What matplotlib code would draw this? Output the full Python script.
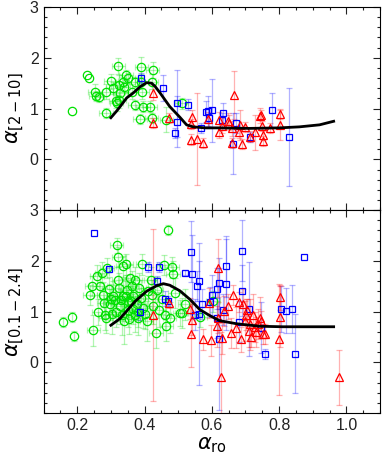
import numpy as np
import matplotlib
matplotlib.use('Agg')
from matplotlib import pyplot as plt
from matplotlib.ticker import MultipleLocator

plt.rcParams['font.family'] = ['Liberation Sans', 'DejaVu Sans']
plt.rcParams['mathtext.fontset'] = 'dejavusans'

# ---- top panel: alpha_[2-10] vs alpha_ro ----
top_green_x = [0.184, 0.228, 0.236, 0.253, 0.256, 0.266, 0.286, 0.286, 0.300, 0.307,
               0.317, 0.322, 0.325, 0.327, 0.325, 0.335, 0.345, 0.352, 0.362, 0.372,
               0.372, 0.386, 0.391, 0.391, 0.394, 0.396, 0.416, 0.421, 0.424, 0.421,
               0.465, 0.510, 0.338, 0.314]
top_green_y = [0.96, 1.67, 1.61, 1.33, 1.24, 1.22, 1.33, 0.92, 1.54, 1.40,
               1.10, 1.84, 1.47, 1.30, 1.17, 1.53, 1.66, 1.61, 1.33, 1.53,
               1.07, 0.79, 1.82, 1.53, 1.33, 1.04, 1.04, 1.53, 1.76, 0.81,
               0.78, 1.10, 1.42, 1.14]
top_green_yerr = [0.0, 0.0, 0.0, 0.15, 0.10, 0.10, 0.15, 0.10, 0.15, 0.12,
                  0.15, 0.15, 0.20, 0.15, 0.15, 0.10, 0.10, 0.10, 0.15, 0.10,
                  0.10, 0.10, 0.20, 0.15, 0.15, 0.10, 0.10, 0.15, 0.15, 0.10,
                  0.25, 0.10, 0.10, 0.12]
top_green_xerr = [0.0, 0.0, 0.0, 0.02, 0.02, 0.015, 0.02, 0.02, 0.02, 0.02,
                  0.02, 0.02, 0.02, 0.02, 0.02, 0.02, 0.02, 0.02, 0.02, 0.02,
                  0.02, 0.02, 0.02, 0.02, 0.02, 0.02, 0.02, 0.02, 0.02, 0.02,
                  0.02, 0.02, 0.02, 0.02]

top_blue_x = [0.391, 0.454, 0.498, 0.498, 0.492, 0.530, 0.569, 0.582, 0.589, 0.602,
              0.592, 0.632, 0.630, 0.663, 0.673, 0.712, 0.778, 0.829]
top_blue_y = [1.61, 1.40, 1.10, 0.74, 0.52, 1.08, 0.62, 0.94, 0.95, 0.97,
              0.82, 0.91, 0.77, 0.31, 0.72, 0.44, 0.97, 0.44]
top_blue_yerr = [0.10, 0.26, 0.65, 0.50, 0.10, 0.10, 0.10, 0.20, 0.30, 0.62,
                 0.20, 0.20, 0.15, 0.60, 0.20, 0.10, 0.33, 0.97]

top_red_x = [0.424, 0.426, 0.473, 0.537, 0.540, 0.537, 0.556, 0.574, 0.590, 0.621,
             0.621, 0.630, 0.649, 0.650, 0.660, 0.665, 0.660, 0.680, 0.683, 0.690,
             0.700, 0.714, 0.728, 0.742, 0.747, 0.750, 0.752, 0.752, 0.772, 0.803,
             0.804]
top_red_y = [1.31, 0.72, 0.81, 0.39, 0.83, 0.69, 0.40, 0.32, 0.79, 0.78,
             0.53, 0.66, 0.76, 0.72, 0.61, 1.27, 0.33, 0.53, 0.68, 0.31,
             0.63, 0.45, 0.53, 0.86, 0.88, 0.66, 0.48, 0.37, 0.61, 0.89,
             0.68]
top_red_yerr = [0.15, 0.10, 0.10, 0.10, 0.15, 0.10, 0.90, 0.10, 0.15, 0.15,
                0.10, 0.15, 0.15, 0.15, 0.15, 0.47, 0.10, 0.10, 0.30, 0.10,
                0.10, 0.10, 0.35, 0.15, 0.10, 0.10, 0.10, 0.10, 0.10, 0.10,
                0.30]

top_curve_x = [0.300, 0.317, 0.330, 0.347, 0.367, 0.387, 0.406, 0.421, 0.431, 0.446,
               0.475, 0.505, 0.525, 0.544, 0.580, 0.614, 0.712, 0.800, 0.860, 0.920,
               0.962]
top_curve_y = [0.82, 0.95, 1.06, 1.21, 1.31, 1.43, 1.51, 1.50, 1.44, 1.31,
               1.04, 0.83, 0.68, 0.64, 0.62, 0.62, 0.61, 0.62, 0.64, 0.68,
               0.75]

# ---- bottom panel: alpha_[0.1-2.4] vs alpha_ro ----
bot_green_x = [0.157, 0.184, 0.189, 0.238, 0.244, 0.248, 0.259, 0.263, 0.268, 0.273,
               0.278, 0.280, 0.283, 0.286, 0.288, 0.293, 0.298, 0.302, 0.307, 0.312,
               0.317, 0.322, 0.322, 0.324, 0.327, 0.332, 0.335, 0.337, 0.339, 0.345,
               0.347, 0.352, 0.357, 0.359, 0.362, 0.367, 0.372, 0.372, 0.377, 0.381,
               0.384, 0.391, 0.394, 0.396, 0.406, 0.411, 0.418, 0.421, 0.424, 0.434,
               0.436, 0.443, 0.451, 0.458, 0.460, 0.465, 0.470, 0.475, 0.482, 0.485,
               0.490, 0.505, 0.510, 0.520, 0.566, 0.604, 0.300, 0.315, 0.350, 0.365,
               0.380, 0.400, 0.345, 0.355, 0.330]
bot_green_y = [0.80, 0.90, 0.52, 1.33, 1.50, 0.63, 1.71, 0.99, 1.50, 1.77,
               1.33, 1.17, 0.94, 0.88, 1.86, 1.44, 1.14, 0.95, 1.30, 1.22,
               2.31, 1.63, 2.08, 1.46, 1.10, 0.94, 1.89, 1.30, 0.81, 1.93,
               1.43, 1.04, 1.67, 1.20, 1.50, 1.30, 1.63, 0.94, 1.14, 0.88,
               1.46, 1.27, 1.93, 1.07, 0.81, 1.40, 1.63, 1.33, 1.10, 0.58,
               1.43, 1.04, 1.25, 1.92, 0.94, 0.71, 2.61, 0.88, 1.87, 1.74,
               1.37, 0.97, 0.97, 1.14, 0.89, 1.20, 1.25, 1.00, 1.20, 1.05,
               1.00, 0.95, 1.30, 0.85, 1.22]
bot_green_yerr = [0.10, 0.10, 0.10, 0.20, 0.20, 0.30, 0.20, 0.25, 0.25, 0.20,
                  0.25, 0.30, 0.30, 0.30, 0.20, 0.25, 0.30, 0.40, 0.30, 0.30,
                  0.15, 0.25, 0.20, 0.30, 0.35, 0.40, 0.20, 0.35, 0.45, 0.20,
                  0.30, 0.35, 0.25, 0.35, 0.30, 0.35, 0.25, 0.35, 0.30, 0.35,
                  0.30, 0.35, 0.20, 0.40, 0.40, 0.30, 0.25, 0.30, 0.35, 0.30,
                  0.25, 0.35, 0.30, 0.20, 0.30, 0.30, 0.10, 0.30, 0.20, 0.25,
                  0.30, 0.25, 0.30, 0.30, 0.20, 0.20, 0.30, 0.30, 0.30, 0.30,
                  0.30, 0.30, 0.30, 0.30, 0.30]
bot_green_xerr = [0.0, 0.0, 0.0, 0.02, 0.02, 0.02, 0.02, 0.02, 0.02, 0.02,
                  0.02, 0.02, 0.02, 0.02, 0.02, 0.02, 0.02, 0.02, 0.02, 0.02,
                  0.02, 0.02, 0.02, 0.02, 0.02, 0.02, 0.02, 0.02, 0.02, 0.02,
                  0.02, 0.02, 0.02, 0.02, 0.02, 0.02, 0.02, 0.02, 0.02, 0.02,
                  0.02, 0.02, 0.02, 0.02, 0.02, 0.02, 0.02, 0.02, 0.02, 0.02,
                  0.02, 0.02, 0.02, 0.02, 0.02, 0.02, 0.0, 0.02, 0.02, 0.02,
                  0.02, 0.02, 0.02, 0.02, 0.02, 0.02, 0.02, 0.02, 0.02, 0.02,
                  0.02, 0.02, 0.02, 0.02, 0.02]

bot_blue_x = [0.250, 0.295, 0.386, 0.411, 0.444, 0.436, 0.460, 0.470, 0.519, 0.539,
              0.542, 0.561, 0.556, 0.571, 0.549, 0.563, 0.600, 0.595, 0.614, 0.620,
              0.615, 0.620, 0.643, 0.643, 0.633, 0.690, 0.690, 0.680, 0.710, 0.747,
              0.757, 0.807, 0.820, 0.838, 0.846, 0.873]
bot_blue_y = [2.54, 1.84, 0.99, 1.88, 1.88, 1.61, 1.25, 1.21, 1.77, 2.18,
              1.74, 1.60, 1.50, 1.15, 0.94, 0.95, 1.33, 1.19, 1.45, 1.56,
              0.87, 0.45, 1.89, 1.54, 1.04, 2.20, 1.41, 0.80, 1.05, 0.68,
              0.16, 1.05, 1.02, 1.05, 0.17, 2.08]
bot_blue_yerr = [0.0, 0.05, 0.15, 0.10, 0.10, 0.10, 0.15, 0.10, 0.05, 0.60,
                 0.78, 0.40, 0.30, 0.30, 0.30, 1.40, 0.40, 0.30, 0.40, 0.50,
                 0.40, 1.40, 0.60, 0.90, 0.30, 0.60, 0.50, 0.40, 0.93, 0.50,
                 0.10, 0.45, 0.45, 0.48, 0.78, 0.0]

bot_red_x = [0.426, 0.473, 0.535, 0.540, 0.537, 0.574, 0.599, 0.592, 0.618, 0.618,
             0.615, 0.631, 0.628, 0.635, 0.648, 0.658, 0.663, 0.673, 0.680, 0.688,
             0.693, 0.698, 0.702, 0.704, 0.710, 0.714, 0.717, 0.722, 0.727, 0.730,
             0.737, 0.742, 0.747, 0.752, 0.757, 0.800, 0.803, 0.804, 0.979]
bot_red_y = [0.93, 1.17, 1.06, 0.84, 0.56, 0.45, 0.43, 1.17, 1.86, 0.88,
             0.71, 0.47, -0.30, 1.01, 1.10, 0.58, 1.33, 0.68, 1.19, 0.45,
             1.14, 0.81, 0.94, 1.04, 0.61, 0.75, 0.50, 0.94, 0.69, 0.60,
             0.75, 0.88, 0.81, 0.55, 0.55, 0.45, 1.28, 0.90, -0.30]
bot_red_yerr = [1.70, 0.10, 0.20, 0.30, 0.65, 0.20, 0.30, 0.30, 0.58, 0.30,
                0.40, 0.30, 0.90, 0.30, 0.25, 0.30, 0.20, 0.40, 0.20, 0.25,
                0.30, 0.40, 0.30, 0.20, 0.30, 0.50, 0.20, 0.40, 0.30, 0.30,
                0.30, 0.40, 0.20, 0.20, 0.20, 1.10, 0.25, 0.60, 0.55]

bot_curve_x = [0.300, 0.327, 0.347, 0.372, 0.406, 0.436, 0.456, 0.475, 0.505, 0.535,
               0.564, 0.594, 0.623, 0.673, 0.742, 0.810, 0.962]
bot_curve_y = [0.73, 0.86, 1.01, 1.20, 1.40, 1.51, 1.55, 1.52, 1.41, 1.24,
               1.04, 0.92, 0.82, 0.76, 0.71, 0.70, 0.70]

GREEN = '#00e000'
BLUE = '#0000ff'
RED = '#ff0000'


def draw_group(ax, x, y, yerr, color, marker, ms, xerr=None):
    x = np.asarray(x)
    y = np.asarray(y)
    yerr = np.asarray(yerr)
    # only draw bars that actually have a size, zero ones would leave a stray cap
    m = yerr > 0
    ax.errorbar(x[m], y[m], yerr=yerr[m], fmt='none', ecolor=color, alpha=0.3,
                elinewidth=0.9, capsize=2.5, capthick=0.9, zorder=1)
    if xerr is not None:
        xerr = np.asarray(xerr)
        m = xerr > 0
        ax.errorbar(x[m], y[m], xerr=xerr[m], fmt='none', ecolor=color, alpha=0.3,
                    elinewidth=0.9, capsize=2.5, capthick=0.9, zorder=1)
    ax.plot(x, y, ls='none', marker=marker, ms=ms, mfc='none', mec=color,
            mew=0.9, zorder=3)


def style_axes(ax):
    ax.set_xlim(0.1, 1.1)
    ax.set_ylim(-1, 3)
    ax.set_yticks([0, 1, 2, 3])
    ax.xaxis.set_major_locator(MultipleLocator(0.2))
    ax.xaxis.set_minor_locator(MultipleLocator(0.05))
    ax.yaxis.set_minor_locator(MultipleLocator(0.2))
    ax.tick_params(which='both', direction='in', top=True, right=True,
                   width=0.8, labelsize=11.5, colors='#222222')
    ax.tick_params(which='major', length=5)
    ax.tick_params(which='minor', length=2.5)
    for s in ax.spines.values():
        s.set_linewidth(0.8)


fig = plt.figure(figsize=(3.82, 4.65), dpi=100)
ax1 = fig.add_axes([0.114, 0.548, 0.881, 0.437])
ax2 = fig.add_axes([0.114, 0.112, 0.881, 0.436])

draw_group(ax1, top_green_x, top_green_y, top_green_yerr, GREEN, 'o', 6, top_green_xerr)
draw_group(ax1, top_blue_x, top_blue_y, top_blue_yerr, BLUE, 's', 4.5)
draw_group(ax1, top_red_x, top_red_y, top_red_yerr, RED, '^', 5.5)
ax1.plot(top_curve_x, top_curve_y, color='black', lw=2, zorder=4)

draw_group(ax2, bot_green_x, bot_green_y, bot_green_yerr, GREEN, 'o', 6, bot_green_xerr)
draw_group(ax2, bot_blue_x, bot_blue_y, bot_blue_yerr, BLUE, 's', 4.5)
draw_group(ax2, bot_red_x, bot_red_y, bot_red_yerr, RED, '^', 5.5)
ax2.plot(bot_curve_x, bot_curve_y, color='black', lw=2, zorder=4)

style_axes(ax1)
style_axes(ax2)
ax1.tick_params(labelbottom=False)

ax1.set_ylabel(r'$\alpha_{[2-10]}$', fontsize=15, labelpad=3)
ax2.set_ylabel(r'$\alpha_{[0.1-2.4]}$', fontsize=15, labelpad=3)
ax2.set_xlabel(r'$\alpha_{\rm ro}$', fontsize=15, labelpad=2)

fig.savefig('out.png', dpi=100)
